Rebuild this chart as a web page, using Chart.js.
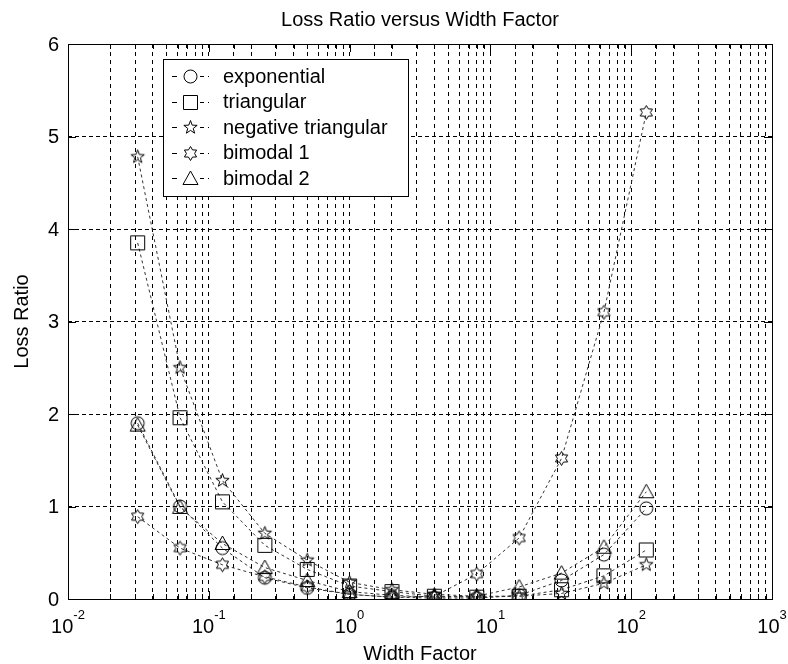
<!DOCTYPE html>
<html>
<head>
<meta charset="utf-8">
<title>Loss Ratio versus Width Factor</title>
<script src="https://cdn.jsdelivr.net/npm/chart.js@4.4.1/dist/chart.umd.min.js"></script>
<style>
  html, body { margin: 0; padding: 0; background: #fff; }
  #wrap { width: 788px; height: 664px; }
</style>
</head>
<body>
<div id="wrap"><canvas id="myChart" width="788" height="664"></canvas></div>
<script>
// width factor runs in powers of two
const widthFactor = [1/32, 1/16, 1/8, 1/4, 1/2, 1, 2, 4, 8, 16, 32, 64, 128];

const exponential   = [1.90, 1.00, 0.55, 0.23, 0.12, 0.05, 0.02, 0.01, 0.01, 0.04, 0.20, 0.48, 0.98];
const triangular    = [3.85, 1.96, 1.05, 0.58, 0.32, 0.14, 0.08, 0.03, 0.02, 0.03, 0.10, 0.25, 0.53];
const negTriangular = [4.78, 2.50, 1.28, 0.71, 0.42, 0.18, 0.10, 0.05, 0.03, 0.03, 0.06, 0.17, 0.37];
const bimodal1      = [0.89, 0.55, 0.37, 0.24, 0.13, 0.05, 0.02, 0.03, 0.27, 0.66, 1.52, 3.10, 5.26];
const bimodal2      = [1.88, 0.99, 0.60, 0.34, 0.20, 0.08, 0.04, 0.02, 0.03, 0.13, 0.28, 0.56, 1.16];

const seriesNames = ["exponential", "triangular", "negative triangular", "bimodal 1", "bimodal 2"];
const xTickExponents = [-2, -1, 0, 1, 2, 3];
const yTicks = [0, 1, 2, 3, 4, 5, 6];

const FONT = '"Liberation Sans", Arial, sans-serif';

// open markers drawn on small canvases, used as point styles
function makeMarker(kind) {
    let c = document.createElement('canvas');
    c.width = 19; c.height = 19;
    let g = c.getContext('2d');
    let cx = 9.5, cy = 9.5;
    g.strokeStyle = '#000';
    g.lineWidth = 1;
    g.beginPath();
    if (kind == 'circle') {
        g.arc(cx, cy, 6.5, 0, Math.PI * 2);
    } else if (kind == 'square') {
        g.rect(cx - 7, cy - 7, 14, 14);
    } else if (kind == 'triangle') {
        g.moveTo(cx, cy - 7.5);
        g.lineTo(cx + 7.5, cy + 6);
        g.lineTo(cx - 7.5, cy + 6);
        g.closePath();
    } else {
        let n = kind == 'pentagram' ? 5 : 6;
        let ro = 7, ri = kind == 'pentagram' ? 2.9 : 4.1;
        for (let i = 0; i < n * 2; i++) {
            let r = i % 2 == 0 ? ro : ri;
            let a = -Math.PI / 2 + i * Math.PI / n;
            let px = cx + r * Math.cos(a), py = cy + r * Math.sin(a);
            if (i == 0) g.moveTo(px, py); else g.lineTo(px, py);
        }
        g.closePath();
    }
    g.stroke();
    return c;
}

const markers = [makeMarker('circle'), makeMarker('square'), makeMarker('pentagram'),
                 makeMarker('hexagram'), makeMarker('triangle')];
const seriesData = [exponential, triangular, negTriangular, bimodal1, bimodal2];

let datasets = seriesNames.map((name, i) => {
    return {
        label: name,
        data: widthFactor.map((x, j) => ({x: x, y: seriesData[i][j]})),
        borderColor: '#333',
        borderWidth: 1,
        borderDash: [3, 3],
        pointStyle: markers[i],
        pointRadius: 8,
        tension: 0,
        fill: false
    };
});

// box, inner ticks, labels, titles and legend in MATLAB style
const matlabDecor = {
    id: 'matlabDecor',
    afterDraw(chart) {
        const ctx = chart.ctx;
        const a = chart.chartArea;
        const xs = chart.scales.x, ys = chart.scales.y;
        ctx.save();
        ctx.strokeStyle = '#000';
        ctx.lineWidth = 1;
        ctx.setLineDash([]);

        // inner ticks
        ctx.beginPath();
        xs.ticks.forEach(t => {
            let px = Math.round(xs.getPixelForValue(t.value)) + 0.5;
            let len = xTickExponents.some(e => Math.abs(Math.pow(10, e) - t.value) < 1e-9 * t.value) ? 8 : 5;
            ctx.moveTo(px, a.bottom); ctx.lineTo(px, a.bottom - len);
            ctx.moveTo(px, a.top); ctx.lineTo(px, a.top + len);
        });
        yTicks.forEach(v => {
            let py = Math.round(ys.getPixelForValue(v)) + 0.5;
            ctx.moveTo(a.left, py); ctx.lineTo(a.left + 8, py);
            ctx.moveTo(a.right, py); ctx.lineTo(a.right - 8, py);
        });
        ctx.stroke();

        // axes box
        ctx.strokeRect(Math.round(a.left) + 0.5, Math.round(a.top) + 0.5,
                       Math.round(a.right - a.left), Math.round(a.bottom - a.top));

        ctx.fillStyle = '#000';
        // y tick labels
        ctx.font = '20px ' + FONT;
        ctx.textAlign = 'right';
        ctx.textBaseline = 'middle';
        yTicks.forEach(v => {
            ctx.fillText(String(v), a.left - 9, ys.getPixelForValue(v) + 1);
        });

        // x tick labels: 10 with raised exponent
        xTickExponents.forEach(e => {
            let px = xs.getPixelForValue(Math.pow(10, e));
            ctx.font = '20px ' + FONT;
            let wBase = ctx.measureText('10').width;
            ctx.font = '13px ' + FONT;
            let wExp = ctx.measureText(String(e)).width;
            let x0 = px - (wBase + wExp) / 2;
            ctx.textAlign = 'left';
            ctx.textBaseline = 'alphabetic';
            ctx.font = '20px ' + FONT;
            ctx.fillText('10', x0, a.bottom + 34);
            ctx.font = '13px ' + FONT;
            ctx.fillText(String(e), x0 + wBase, a.bottom + 20);
        });

        // axis titles and chart title
        ctx.font = '20px ' + FONT;
        ctx.textAlign = 'center';
        ctx.textBaseline = 'alphabetic';
        ctx.fillText('Width Factor', (a.left + a.right) / 2, 660);
        ctx.fillText('Loss Ratio versus Width Factor', (a.left + a.right) / 2, 26);
        ctx.save();
        ctx.translate(28, (a.top + a.bottom) / 2);
        ctx.rotate(-Math.PI / 2);
        ctx.fillText('Loss Ratio', 0, 0);
        ctx.restore();

        // legend box
        let lx = 163, ly = 59, lw = 245, lh = 137;
        ctx.fillStyle = '#fff';
        ctx.fillRect(lx, ly, lw, lh);
        ctx.strokeRect(lx + 0.5, ly + 0.5, lw, lh);
        seriesNames.forEach((name, i) => {
            let ry = 76 + i * 25.6;
            ctx.beginPath();
            ctx.setLineDash([5, 4]);
            ctx.strokeStyle = '#000';
            ctx.moveTo(172, Math.round(ry) + 0.5);
            ctx.lineTo(209, Math.round(ry) + 0.5);
            ctx.stroke();
            ctx.setLineDash([]);
            ctx.fillStyle = '#fff';
            ctx.fillRect(181, ry - 9, 19, 18);
            let m = markers[i];
            ctx.drawImage(m, 190.5 - m.width / 2, Math.round(ry) + 0.5 - m.height / 2);
            ctx.fillStyle = '#000';
            ctx.font = '20px ' + FONT;
            ctx.textAlign = 'left';
            ctx.textBaseline = 'middle';
            ctx.fillText(name, 223, ry + 1);
        });
        ctx.restore();
    }
};

const myChart = new Chart(document.getElementById('myChart'), {
    type: 'line',
    data: { datasets: datasets },
    options: {
        responsive: false,
        animation: false,
        events: [],
        layout: { padding: { top: 44, right: 16, left: 0, bottom: 0 } },
        scales: {
            x: {
                type: 'logarithmic',
                min: 0.01,
                max: 1000,
                grid: { color: '#000', lineWidth: 1, drawTicks: false },
                border: { display: false, dash: [4, 4] },
                ticks: { display: false, autoSkip: false },
                afterFit: (s) => { s.height = 65; }
            },
            y: {
                type: 'linear',
                min: 0,
                max: 6,
                grid: { color: '#000', lineWidth: 1, drawTicks: false },
                border: { display: false, dash: [4, 3] },
                ticks: { display: false, stepSize: 1 },
                afterFit: (s) => { s.width = 68; }
            }
        },
        plugins: {
            legend: { display: false },
            title: { display: false },
            tooltip: { enabled: false }
        }
    },
    plugins: [matlabDecor]
});
</script>
</body>
</html>
